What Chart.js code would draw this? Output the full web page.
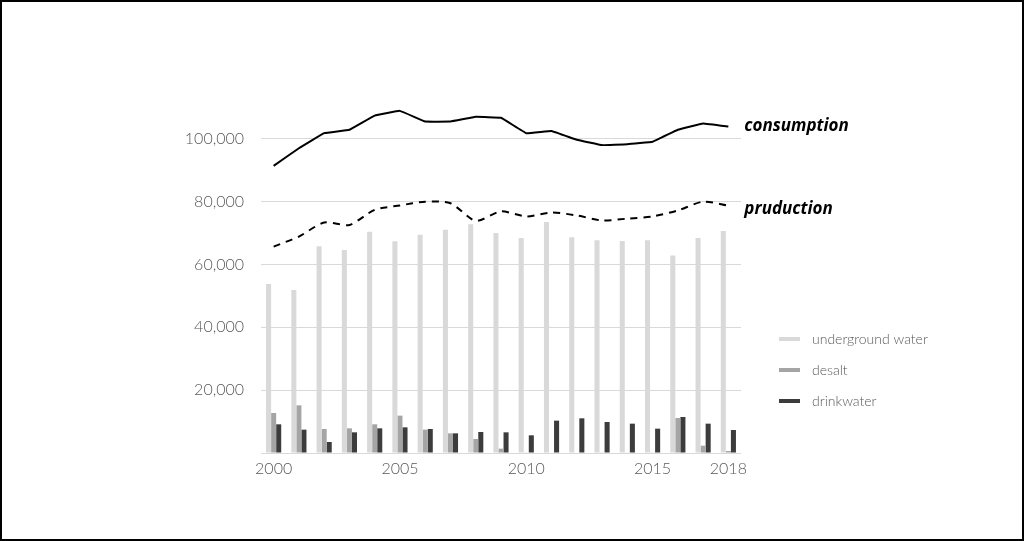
<!DOCTYPE html>
<html>
<head>
<meta charset="utf-8">
<script src="https://cdn.jsdelivr.net/npm/chart.js@4/dist/chart.umd.min.js"></script>
<style>
    html, body { margin: 0; padding: 0; background: #fff; }
    #frame {
        box-sizing: border-box;
        width: 1024px;
        height: 541px;
        border: 2px solid #000;
        position: relative;
    }
    #wrap { width: 1020px; height: 537px; position: relative; }
</style>
</head>
<body>
<div id="frame"><div id="wrap"><canvas id="waterChart"></canvas></div></div>
<script>
const years = ['2000', '2001', '2002', '2003', '2004', '2005', '2006', '2007', '2008', '2009',
    '2010', '2011', '2012', '2013', '2014', '2015', '2016', '2017', '2018'];
const shownYears = ['2000', '2005', '2010', '2015', '2018'];

const undergroundWater = [53800, 51900, 65800, 64650, 70400, 67400, 69500, 71100, 72800, 70000,
    68400, 73500, 68700, 67700, 67500, 67700, 62850, 68400, 70700];
const desalt = [12740, 15180, 7640, 7850, 9130, 11890, 7430, 6260, 4460, 1380,
    200, 150, 150, 200, 200, 200, 11150, 2330, 640];
const drinkwater = [9130, 7430, 3500, 6580, 7850, 8170, 7640, 6260, 6690, 6580,
    5630, 10300, 11040, 9870, 9340, 7750, 11460, 9340, 7330];

const consumption = [91400, 97000, 101800, 102900, 107400, 108900, 105500, 105500, 107000, 106700,
    101800, 102500, 99700, 98000, 98300, 99050, 102900, 104900, 103900];
const production = [65700, 68900, 73350, 72600, 77400, 78800, 80000, 79500, 73900, 76900,
    75300, 76550, 75600, 74000, 74600, 75300, 77200, 80000, 78700];

const yTicksHidden = [0, 120000];
const tickColor = '#595959';
const gridColor = '#d9d9d9';

// legend at the right + labels at the end of the two lines
const sideLabels = {
    id: 'sideLabels',
    afterDraw(chart) {
        const ctx = chart.ctx;
        ctx.save();

        // line labels
        ctx.font = 'italic bold 17px "Open Sans"';
        ctx.fillStyle = '#000';
        ctx.textBaseline = 'middle';
        ctx.textAlign = 'left';
        chart.data.datasets.forEach((ds, i) => {
            if (ds.type !== 'line') return;
            const pts = chart.getDatasetMeta(i).data;
            const last = pts[pts.length - 1];
            ctx.fillText(ds.label, last.x + 16, last.y + ds.labelShift);
        });

        // bar legend
        ctx.font = '300 14px Lato';
        let y = 337;
        chart.data.datasets.forEach((ds) => {
            if (ds.type === 'line') return;
            ctx.fillStyle = ds.backgroundColor;
            ctx.fillRect(777, y - 2, 21, 4);
            ctx.fillStyle = tickColor;
            ctx.fillText(ds.label, 810, y);
            y += 31;
        });
        ctx.restore();
    }
};

new Chart(document.getElementById('waterChart'), {
    type: 'bar',
    data: {
        labels: years,
        datasets: [
            {
                type: 'line',
                label: 'consumption',
                data: consumption,
                borderColor: '#000',
                borderWidth: 2,
                pointRadius: 0,
                tension: 0.05,
                fill: false,
                labelShift: 0
            },
            {
                type: 'line',
                label: 'pruduction',
                data: production,
                borderColor: '#000',
                borderWidth: 2,
                borderDash: [7, 6],
                pointRadius: 0,
                tension: 0.25,
                fill: false,
                labelShift: 3
            },
            {
                type: 'bar',
                label: 'underground water',
                data: undergroundWater,
                backgroundColor: '#d9d9d9'
            },
            {
                type: 'bar',
                label: 'desalt',
                data: desalt,
                backgroundColor: '#a5a5a5'
            },
            {
                type: 'bar',
                label: 'drinkwater',
                data: drinkwater,
                backgroundColor: '#3c3c3c'
            }
        ]
    },
    options: {
        responsive: true,
        maintainAspectRatio: false,
        animation: false,
        devicePixelRatio: 1,
        categoryPercentage: 0.6,
        barPercentage: 1.0,
        layout: {
            padding: { top: 74, right: 281, bottom: 0, left: 0 }
        },
        plugins: {
            legend: { display: false },
            tooltip: { enabled: false }
        },
        scales: {
            x: {
                offset: true,
                grid: { display: false, drawTicks: false },
                border: { display: false },
                ticks: {
                    autoSkip: false,
                    maxRotation: 0,
                    padding: 6,
                    color: tickColor,
                    font: { family: 'Lato', weight: 300, size: 16 },
                    callback: function (value) {
                        const lab = this.getLabelForValue(value);
                        return shownYears.includes(lab) ? lab : '';
                    }
                },
                afterFit: (scale) => { scale.height = 86; }
            },
            y: {
                min: 0,
                max: 120000,
                border: { display: false },
                grid: {
                    drawTicks: false,
                    lineWidth: 1,
                    color: (c) => (c.tick && c.tick.value === 120000) ? 'rgba(0,0,0,0)' : gridColor
                },
                ticks: {
                    stepSize: 20000,
                    padding: 17,
                    color: tickColor,
                    font: { family: 'Lato', weight: 300, size: 16 },
                    callback: (v) => yTicksHidden.includes(v) ? '' : v.toLocaleString('en-US')
                },
                afterFit: (scale) => { scale.width = 259; }
            }
        }
    },
    plugins: [sideLabels]
});
</script>
</body>
</html>
